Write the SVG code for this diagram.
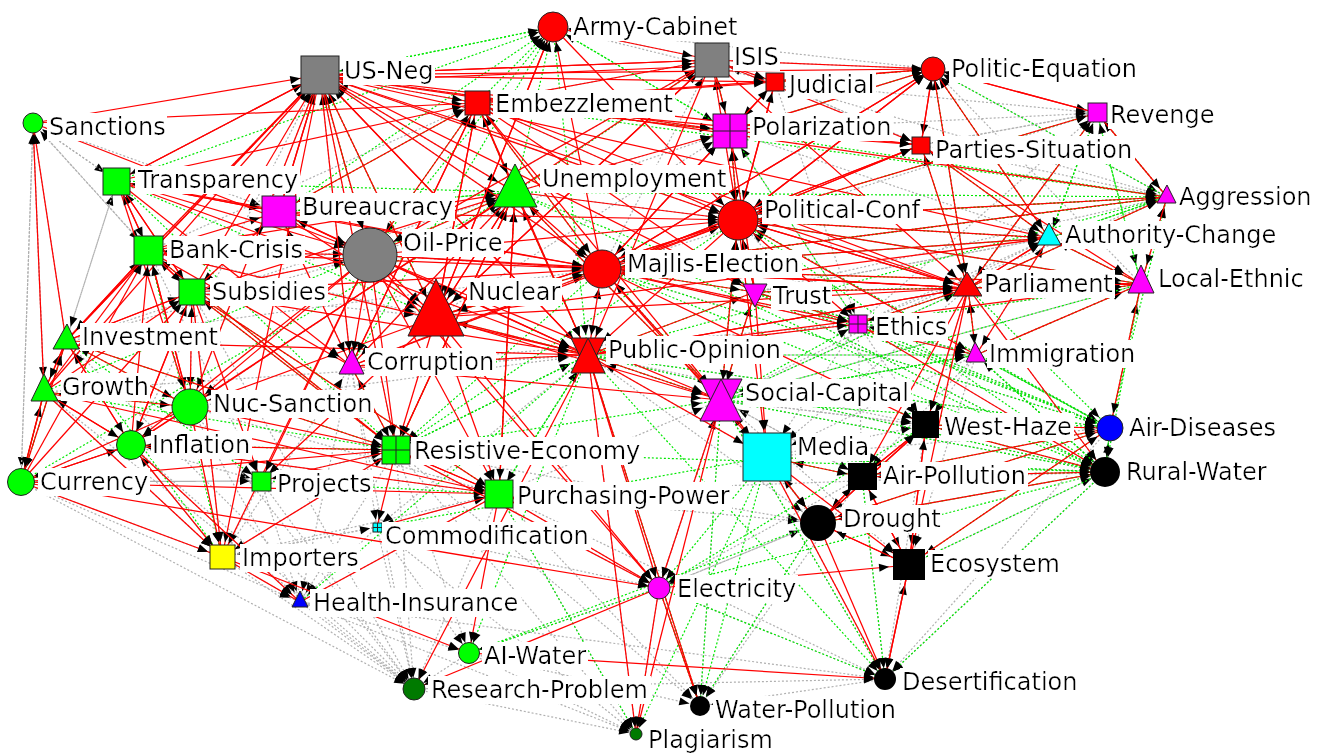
<svg xmlns="http://www.w3.org/2000/svg" width="1322" height="753" viewBox="0 0 1322 753">
<style>
.gy path{fill:none;stroke:#b0b0b0;stroke-width:1.2;stroke-dasharray:2 2}
.gn path{fill:none;stroke:#00e800;stroke-width:1.2;stroke-dasharray:2 2}
.rd path{fill:none;stroke:#ff0000;stroke-width:1.25}
.m6{marker-end:url(#m6)}.m10{marker-end:url(#m10)}.m14{marker-end:url(#m14)}.m18{marker-end:url(#m18)}.m22{marker-end:url(#m22)}.m26{marker-end:url(#m26)}
.nd{stroke:#222;stroke-width:1}
.cx{stroke:#222;stroke-width:1;fill:none}
.lb{font-family:"DejaVu Sans","Liberation Sans",sans-serif;font-size:24px;fill:#000;filter:url(#bg)}
</style>
<defs>
<filter id="bg" x="-0.01" y="0" width="1.02" height="1"><feFlood flood-color="#fff" result="f"/><feComposite in="SourceGraphic" in2="f" operator="over"/></filter>
<marker id="m6" markerUnits="userSpaceOnUse" markerWidth="10" markerHeight="8" refX="17" refY="4" orient="auto" overflow="visible"><path d="M0,0L10,4L0,8z" fill="#000"/></marker>
<marker id="m10" markerUnits="userSpaceOnUse" markerWidth="10" markerHeight="8" refX="21" refY="4" orient="auto" overflow="visible"><path d="M0,0L10,4L0,8z" fill="#000"/></marker>
<marker id="m14" markerUnits="userSpaceOnUse" markerWidth="10" markerHeight="8" refX="25" refY="4" orient="auto" overflow="visible"><path d="M0,0L10,4L0,8z" fill="#000"/></marker>
<marker id="m18" markerUnits="userSpaceOnUse" markerWidth="10" markerHeight="8" refX="30" refY="4" orient="auto" overflow="visible"><path d="M0,0L10,4L0,8z" fill="#000"/></marker>
<marker id="m22" markerUnits="userSpaceOnUse" markerWidth="10" markerHeight="8" refX="32" refY="4" orient="auto" overflow="visible"><path d="M0,0L10,4L0,8z" fill="#000"/></marker>
<marker id="m26" markerUnits="userSpaceOnUse" markerWidth="10" markerHeight="8" refX="37" refY="4" orient="auto" overflow="visible"><path d="M0,0L10,4L0,8z" fill="#000"/></marker>
</defs>
<rect width="1322" height="753" fill="#fff"/>
<g id="edges">
<g class="gy">
<g class="m18">
<path d="M858 324L588 355"/><path d="M976 355L588 355"/><path d="M190 407L588 355"/><path d="M44 392L588 355"/>
<path d="M351 366L588 355"/><path d="M396 450L588 355"/><path d="M499 494L588 355"/><path d="M721 400L588 355"/><path d="M767 457L588 355"/><path d="M436 317L588 355"/><path d="M370 255L588 355"/>
<path d="M755 292L738 220"/><path d="M858 324L738 220"/><path d="M976 355L738 220"/><path d="M351 366L738 220"/>
<path d="M730 131L738 220"/><path d="M968 288L738 220"/><path d="M1049 238L738 220"/><path d="M515 192L738 220"/><path d="M721 400L738 220"/>
<path d="M976 355L602 269"/><path d="M858 324L602 269"/><path d="M351 366L602 269"/><path d="M66 341L602 269"/>
<path d="M588 355L602 269"/><path d="M436 317L602 269"/><path d="M370 255L602 269"/><path d="M721 400L602 269"/>
<path d="M499 494L721 400"/><path d="M818 523L721 400"/><path d="M862 477L721 400"/><path d="M926 425L721 400"/><path d="M659 588L721 400"/>
<path d="M351 366L320 75"/><path d="M190 407L320 75"/><path d="M396 450L320 75"/><path d="M370 255L320 75"/><path d="M131 445L320 75"/><path d="M602 269L320 75"/><path d="M738 220L320 75"/><path d="M730 131L320 75"/>
<path d="M515 192L320 75"/><path d="M477 103L320 75"/><path d="M279 212L320 75"/><path d="M436 317L320 75"/><path d="M117 181L320 75"/><path d="M149 251L320 75"/>
<path d="M775 82L712 60"/><path d="M921 145L712 60"/><path d="M602 269L712 60"/>
<path d="M477 103L712 60"/><path d="M515 192L712 60"/><path d="M370 255L712 60"/><path d="M738 220L712 60"/><path d="M933 69L712 60"/>
<path d="M351 366L515 192"/><path d="M190 407L515 192"/><path d="M66 341L515 192"/>
<path d="M351 366L279 212"/><path d="M33 123L279 212"/>
<path d="M192 292L190 407"/>
<path d="M976 355L909 565"/><path d="M721 400L909 565"/>
<path d="M588 355L818 523"/><path d="M499 494L818 523"/><path d="M396 450L818 523"/><path d="M659 588L818 523"/><path d="M721 400L818 523"/>
<path d="M862 477L818 523"/><path d="M767 457L818 523"/><path d="M926 425L818 523"/>
<path d="M858 324L1141 284"/><path d="M721 400L1141 284"/>
<path d="M968 288L1141 284"/><path d="M1049 238L1141 284"/><path d="M976 355L1141 284"/><path d="M755 292L1141 284"/><path d="M738 220L1141 284"/>
<path d="M755 292L730 131"/><path d="M858 324L730 131"/><path d="M320 75L730 131"/>
<path d="M477 103L730 131"/><path d="M515 192L730 131"/><path d="M602 269L730 131"/><path d="M738 220L730 131"/><path d="M370 255L730 131"/><path d="M436 317L730 131"/>
</g>
<g class="m22"><path d="M149 251L436 317"/><path d="M192 292L436 317"/></g>
<g class="m26"><path d="M149 251L370 255"/><path d="M192 292L370 255"/><path d="M66 341L370 255"/>
<path d="M858 324L767 457"/><path d="M968 288L767 457"/><path d="M976 355L767 457"/></g>
<g class="m14">
<path d="M712 60L553 27"/><path d="M933 69L553 27"/>
<path d="M588 355L477 103"/><path d="M149 251L477 103"/><path d="M738 220L477 103"/>
<path d="M33 123L117 181"/><path d="M66 341L117 181"/>
<path d="M33 123L149 251"/><path d="M279 212L192 292"/><path d="M117 181L66 341"/><path d="M33 123L44 392"/>
<path d="M499 494L131 445"/><path d="M222 557L131 445"/><path d="M33 123L21 482"/>
<path d="M131 445L21 482"/><path d="M190 407L21 482"/><path d="M66 341L21 482"/><path d="M261 481L21 482"/>
<path d="M858 324L351 366"/><path d="M222 557L351 366"/>
<path d="M222 557L396 450"/><path d="M261 481L396 450"/>
<path d="M377 527L499 494"/><path d="M222 557L499 494"/><path d="M190 407L499 494"/>
<path d="M261 481L222 557"/><path d="M377 527L222 557"/>
<path d="M131 445L222 557"/><path d="M21 482L222 557"/><path d="M190 407L222 557"/><path d="M44 392L222 557"/><path d="M192 292L222 557"/>
<path d="M721 400L862 477"/><path d="M976 355L862 477"/><path d="M858 324L862 477"/>
<path d="M721 400L926 425"/><path d="M767 457L926 425"/><path d="M976 355L926 425"/><path d="M858 324L926 425"/>
<path d="M968 288L926 425"/><path d="M588 355L926 425"/><path d="M738 220L926 425"/>
<path d="M767 457L1110 428"/><path d="M755 292L1110 428"/>
<path d="M588 355L1110 428"/><path d="M602 269L1110 428"/><path d="M738 220L1110 428"/><path d="M858 324L1110 428"/><path d="M976 355L1110 428"/><path d="M926 425L1110 428"/>
<path d="M499 494L1105 472"/><path d="M909 565L1105 472"/><path d="M588 355L1105 472"/>
<path d="M755 292L1105 472"/><path d="M858 324L1105 472"/><path d="M721 400L1105 472"/><path d="M767 457L1105 472"/><path d="M976 355L1105 472"/><path d="M968 288L1105 472"/><path d="M926 425L1105 472"/><path d="M862 477L1105 472"/><path d="M818 523L1105 472"/>
<path d="M976 355L755 292"/><path d="M1049 238L755 292"/>
<path d="M755 292L968 288"/><path d="M721 400L968 288"/>
<path d="M976 355L968 288"/><path d="M858 324L968 288"/><path d="M588 355L968 288"/><path d="M602 269L968 288"/>
</g>
<g class="m10">
<path d="M21 482L33 123"/><path d="M117 181L33 123"/><path d="M66 341L33 123"/><path d="M44 392L33 123"/><path d="M149 251L33 123"/>
<path d="M149 251L261 481"/><path d="M21 482L261 481"/><path d="M131 445L261 481"/>
<path d="M396 450L300 602"/><path d="M351 366L300 602"/><path d="M21 482L300 602"/><path d="M190 407L300 602"/>
<path d="M222 557L300 602"/><path d="M131 445L300 602"/><path d="M261 481L300 602"/><path d="M377 527L300 602"/><path d="M499 494L300 602"/>
<path d="M300 602L469 653"/><path d="M396 450L469 653"/><path d="M377 527L469 653"/><path d="M659 588L469 653"/>
<path d="M222 557L414 689"/><path d="M300 602L414 689"/><path d="M469 653L414 689"/><path d="M190 407L414 689"/><path d="M21 482L414 689"/><path d="M377 527L414 689"/><path d="M261 481L414 689"/><path d="M396 450L414 689"/><path d="M131 445L414 689"/>
<path d="M44 392L414 689"/><path d="M66 341L414 689"/><path d="M192 292L414 689"/><path d="M351 366L414 689"/><path d="M499 494L414 689"/>
<path d="M862 477L700 706"/><path d="M396 450L700 706"/><path d="M499 494L700 706"/><path d="M469 653L700 706"/>
<path d="M659 588L700 706"/><path d="M721 400L700 706"/><path d="M588 355L700 706"/><path d="M818 523L700 706"/><path d="M885 679L700 706"/>
<path d="M818 523L659 588"/><path d="M862 477L659 588"/><path d="M377 527L659 588"/>
<path d="M396 450L659 588"/><path d="M499 494L659 588"/><path d="M721 400L659 588"/><path d="M588 355L659 588"/>
<path d="M926 425L885 679"/><path d="M1110 428L885 679"/><path d="M300 602L885 679"/><path d="M414 689L885 679"/><path d="M499 494L885 679"/>
<path d="M659 588L885 679"/><path d="M767 457L885 679"/><path d="M721 400L885 679"/><path d="M862 477L885 679"/><path d="M1105 472L885 679"/><path d="M909 565L885 679"/>
<path d="M858 324L976 355"/><path d="M721 400L976 355"/><path d="M755 292L976 355"/>
<path d="M976 355L858 324"/><path d="M775 82L858 324"/>
<path d="M755 292L1049 238"/><path d="M730 131L1049 238"/>
<path d="M968 288L1049 238"/><path d="M858 324L1049 238"/><path d="M721 400L1049 238"/><path d="M602 269L1049 238"/><path d="M976 355L1049 238"/>
<path d="M933 69L1167 197"/><path d="M921 145L1167 197"/><path d="M775 82L1167 197"/>
<path d="M968 288L1167 197"/><path d="M858 324L1167 197"/><path d="M755 292L1167 197"/><path d="M738 220L1167 197"/><path d="M602 269L1167 197"/><path d="M1141 284L1167 197"/><path d="M1049 238L1167 197"/>
<path d="M921 145L1097 113"/><path d="M730 131L1097 113"/><path d="M775 82L1097 113"/>
<path d="M968 288L1097 113"/><path d="M858 324L1097 113"/><path d="M602 269L1097 113"/><path d="M1049 238L1097 113"/><path d="M1167 197L1097 113"/>
<path d="M775 82L921 145"/><path d="M1097 113L921 145"/>
<path d="M1141 284L933 69"/>
<path d="M730 131L933 69"/><path d="M738 220L933 69"/><path d="M602 269L933 69"/><path d="M1049 238L933 69"/><path d="M968 288L933 69"/>
<path d="M921 145L775 82"/><path d="M553 27L775 82"/>
</g>
<g class="m6">
<path d="M222 557L377 527"/><path d="M351 366L377 527"/><path d="M588 355L377 527"/>
<path d="M414 689L636 734"/><path d="M469 653L636 734"/><path d="M300 602L636 734"/>
<path d="M659 588L636 734"/><path d="M588 355L636 734"/><path d="M499 494L636 734"/><path d="M396 450L636 734"/><path d="M377 527L636 734"/>
</g>
</g>
<g class="gn">
<g class="m18">
<path d="M396 450L588 355"/><path d="M499 494L588 355"/><path d="M721 400L588 355"/><path d="M755 292L588 355"/><path d="M553 27L588 355"/>
<path d="M1097 113L738 220"/><path d="M1167 197L738 220"/><path d="M1049 238L738 220"/><path d="M721 400L738 220"/><path d="M1141 284L738 220"/>
<path d="M730 131L738 220"/><path d="M755 292L738 220"/>
<path d="M1049 238L602 269"/><path d="M755 292L602 269"/><path d="M721 400L602 269"/><path d="M1141 284L602 269"/><path d="M1167 197L602 269"/>
<path d="M767 457L721 400"/><path d="M976 355L721 400"/><path d="M968 288L721 400"/><path d="M1141 284L721 400"/><path d="M396 450L721 400"/>
<path d="M553 27L320 75"/><path d="M436 317L320 75"/><path d="M370 255L320 75"/>
<path d="M730 131L712 60"/><path d="M515 192L712 60"/>
<path d="M279 212L515 192"/><path d="M117 181L515 192"/><path d="M588 355L515 192"/><path d="M21 482L515 192"/><path d="M44 392L515 192"/>
<path d="M396 450L515 192"/><path d="M499 494L515 192"/><path d="M721 400L515 192"/>
<path d="M477 103L279 212"/><path d="M515 192L279 212"/>
<path d="M66 341L190 407"/><path d="M44 392L190 407"/>
<path d="M1105 472L909 565"/><path d="M1110 428L909 565"/>
<path d="M1105 472L818 523"/><path d="M1110 428L818 523"/>
<path d="M1097 113L1141 284"/><path d="M976 355L1141 284"/><path d="M1110 428L1141 284"/>
<path d="M858 324L1141 284"/><path d="M755 292L1141 284"/><path d="M968 288L1141 284"/>
<path d="M553 27L730 131"/><path d="M933 69L730 131"/>
</g>
<g class="m22"><path d="M602 269L436 317"/><path d="M588 355L436 317"/><path d="M117 181L436 317"/></g>
<g class="m26"><path d="M477 103L370 255"/><path d="M818 523L767 457"/><path d="M862 477L767 457"/></g>
<g class="m14">
<path d="M320 75L553 27"/><path d="M477 103L553 27"/><path d="M515 192L553 27"/><path d="M730 131L553 27"/><path d="M279 212L553 27"/><path d="M117 181L553 27"/>
<path d="M370 255L553 27"/><path d="M351 366L553 27"/>
<path d="M515 192L477 103"/><path d="M730 131L477 103"/><path d="M602 269L477 103"/>
<path d="M396 450L149 251"/><path d="M499 494L192 292"/><path d="M396 450L192 292"/>
<path d="M396 450L66 341"/><path d="M222 557L66 341"/><path d="M396 450L44 392"/><path d="M396 450L131 445"/><path d="M66 341L21 482"/><path d="M44 392L21 482"/>
<path d="M396 450L351 366"/>
<path d="M588 355L396 450"/><path d="M602 269L396 450"/><path d="M738 220L396 450"/><path d="M117 181L396 450"/>
<path d="M588 355L499 494"/><path d="M261 481L499 494"/><path d="M149 251L222 557"/>
<path d="M1105 472L862 477"/><path d="M1110 428L862 477"/>
<path d="M1110 428L926 425"/><path d="M1105 472L926 425"/>
<path d="M1105 472L1110 428"/><path d="M968 288L1110 428"/><path d="M976 355L1110 428"/><path d="M858 324L1110 428"/><path d="M721 400L1110 428"/>
<path d="M738 220L1110 428"/><path d="M602 269L1110 428"/><path d="M755 292L1110 428"/><path d="M588 355L1110 428"/><path d="M515 192L1110 428"/>
<path d="M1110 428L1105 472"/><path d="M976 355L1105 472"/><path d="M1141 284L1105 472"/><path d="M721 400L1105 472"/><path d="M755 292L1105 472"/><path d="M767 457L1105 472"/><path d="M396 450L1105 472"/><path d="M659 588L1105 472"/>
<path d="M602 269L1105 472"/><path d="M588 355L1105 472"/><path d="M738 220L1105 472"/><path d="M515 192L1105 472"/>
<path d="M721 400L755 292"/><path d="M858 324L755 292"/>
<path d="M1167 197L968 288"/><path d="M1097 113L968 288"/><path d="M976 355L968 288"/><path d="M858 324L968 288"/>
</g>
<g class="m10">
<path d="M66 341L261 481"/><path d="M588 355L300 602"/><path d="M818 523L469 653"/>
<path d="M588 355L469 653"/><path d="M659 588L469 653"/>
<path d="M767 457L700 706"/><path d="M818 523L700 706"/><path d="M721 400L700 706"/>
<path d="M659 588L700 706"/><path d="M588 355L700 706"/>
<path d="M767 457L659 588"/><path d="M926 425L659 588"/>
<path d="M659 588L885 679"/><path d="M1105 472L885 679"/><path d="M862 477L885 679"/>
<path d="M588 355L885 679"/><path d="M721 400L885 679"/>
<path d="M1110 428L976 355"/><path d="M1105 472L976 355"/>
<path d="M721 400L976 355"/><path d="M588 355L976 355"/><path d="M755 292L976 355"/>
<path d="M721 400L858 324"/><path d="M730 131L858 324"/>
<path d="M1167 197L1049 238"/><path d="M1141 284L1049 238"/><path d="M1097 113L1049 238"/>
<path d="M1049 238L1167 197"/><path d="M1141 284L1167 197"/><path d="M730 131L1167 197"/><path d="M1110 428L1167 197"/>
<path d="M738 220L1167 197"/><path d="M602 269L1167 197"/><path d="M588 355L1167 197"/><path d="M515 192L1167 197"/><path d="M477 103L1167 197"/>
<path d="M1167 197L1097 113"/><path d="M1049 238L1097 113"/><path d="M1141 284L1097 113"/>
<path d="M968 288L921 145"/><path d="M1049 238L921 145"/>
<path d="M1049 238L933 69"/><path d="M1167 197L933 69"/><path d="M968 288L933 69"/>
<path d="M933 69L775 82"/>
</g>
<g class="m6"><path d="M767 457L377 527"/><path d="M767 457L636 734"/><path d="M499 494L636 734"/></g>
</g>
<g class="rd">
<g class="m18">
<path d="M370 255L588 355"/><path d="M436 317L588 355"/><path d="M477 103L588 355"/><path d="M320 75L588 355"/><path d="M279 212L588 355"/><path d="M192 292L588 355"/><path d="M149 251L588 355"/><path d="M117 181L588 355"/><path d="M351 366L588 355"/><path d="M602 269L588 355"/><path d="M738 220L588 355"/><path d="M515 192L588 355"/><path d="M66 341L588 355"/><path d="M968 288L588 355"/><path d="M712 60L588 355"/>
<path d="M320 75L738 220"/><path d="M477 103L738 220"/><path d="M553 27L738 220"/><path d="M712 60L738 220"/><path d="M775 82L738 220"/><path d="M933 69L738 220"/><path d="M921 145L738 220"/><path d="M602 269L738 220"/><path d="M436 317L738 220"/><path d="M370 255L738 220"/><path d="M515 192L738 220"/><path d="M279 212L738 220"/><path d="M968 288L738 220"/>
<path d="M320 75L602 269"/><path d="M477 103L602 269"/><path d="M730 131L602 269"/><path d="M436 317L602 269"/><path d="M370 255L602 269"/><path d="M515 192L602 269"/><path d="M279 212L602 269"/><path d="M968 288L602 269"/><path d="M921 145L602 269"/><path d="M933 69L602 269"/><path d="M117 181L602 269"/><path d="M149 251L602 269"/><path d="M192 292L602 269"/>
<path d="M588 355L721 400"/><path d="M351 366L721 400"/><path d="M477 103L721 400"/><path d="M436 317L721 400"/><path d="M515 192L721 400"/><path d="M602 269L721 400"/><path d="M738 220L721 400"/><path d="M755 292L721 400"/><path d="M370 255L721 400"/>
<path d="M33 123L320 75"/><path d="M117 181L320 75"/><path d="M279 212L320 75"/><path d="M712 60L320 75"/><path d="M66 341L320 75"/><path d="M149 251L320 75"/><path d="M192 292L320 75"/><path d="M44 392L320 75"/><path d="M588 355L320 75"/>
<path d="M320 75L712 60"/><path d="M320 82L712 66"/><path d="M477 103L712 60"/><path d="M436 317L712 60"/><path d="M553 27L712 60"/>
<path d="M370 255L515 192"/><path d="M436 317L515 192"/><path d="M320 75L515 192"/><path d="M477 103L515 192"/><path d="M396 450L515 192"/><path d="M192 292L515 192"/><path d="M149 251L515 192"/><path d="M499 494L515 192"/><path d="M131 445L515 192"/>
<path d="M117 181L279 212"/><path d="M370 255L279 212"/><path d="M320 75L279 212"/><path d="M192 292L279 212"/><path d="M149 251L279 212"/>
<path d="M320 75L190 407"/><path d="M436 317L190 407"/><path d="M370 255L190 407"/><path d="M712 60L190 407"/><path d="M149 251L190 407"/><path d="M117 181L190 407"/>
<path d="M818 523L909 565"/><path d="M862 477L909 565"/><path d="M926 425L909 565"/><path d="M659 588L909 565"/><path d="M885 679L909 565"/><path d="M767 457L909 565"/><path d="M968 288L909 565"/>
<path d="M862 477L818 523"/><path d="M926 425L818 523"/><path d="M767 457L818 523"/><path d="M909 565L818 523"/>
<path d="M968 288L1141 284"/><path d="M1049 238L1141 284"/><path d="M1167 197L1141 284"/><path d="M738 220L1141 284"/><path d="M602 269L1141 284"/><path d="M921 145L1141 284"/><path d="M588 355L1141 284"/>
<path d="M320 75L730 131"/><path d="M712 60L730 131"/><path d="M477 103L730 131"/><path d="M775 82L730 131"/><path d="M602 269L730 131"/><path d="M738 220L730 131"/><path d="M515 192L730 131"/>
</g>
<g class="m22">
<path d="M320 75L436 317"/><path d="M712 60L436 317"/><path d="M370 255L436 317"/><path d="M477 103L436 317"/><path d="M553 27L436 317"/><path d="M738 220L436 317"/><path d="M279 212L436 317"/><path d="M515 192L436 317"/>
</g>
<g class="m26">
<path d="M320 75L370 255"/><path d="M712 60L370 255"/><path d="M33 123L370 255"/><path d="M279 212L370 255"/><path d="M117 181L370 255"/>
<path d="M721 400L767 457"/><path d="M588 355L767 457"/><path d="M738 220L767 457"/><path d="M602 269L767 457"/><path d="M755 292L767 457"/>
</g>
<g class="m14">
<path d="M436 317L553 27"/><path d="M602 269L553 27"/>
<path d="M320 75L477 103"/><path d="M279 212L477 103"/><path d="M117 181L477 103"/><path d="M370 255L477 103"/><path d="M436 317L477 103"/><path d="M351 366L477 103"/><path d="M33 123L477 103"/>
<path d="M149 251L117 181"/><path d="M192 292L117 181"/><path d="M279 212L117 181"/><path d="M320 75L117 181"/>
<path d="M117 181L149 251"/><path d="M192 292L149 251"/><path d="M66 341L149 251"/><path d="M44 392L149 251"/><path d="M21 482L149 251"/><path d="M190 407L149 251"/><path d="M131 445L149 251"/><path d="M370 255L149 251"/>
<path d="M149 251L192 292"/><path d="M117 181L192 292"/><path d="M66 341L192 292"/><path d="M44 392L192 292"/><path d="M131 445L192 292"/><path d="M190 407L192 292"/><path d="M370 255L192 292"/><path d="M21 482L192 292"/>
<path d="M44 392L66 341"/><path d="M21 482L66 341"/><path d="M131 445L66 341"/><path d="M190 407L66 341"/><path d="M149 251L66 341"/><path d="M192 292L66 341"/><path d="M320 75L66 341"/>
<path d="M66 341L44 392"/><path d="M21 482L44 392"/><path d="M131 445L44 392"/><path d="M190 407L44 392"/>
<path d="M44 392L131 445"/><path d="M21 482L131 445"/><path d="M66 341L131 445"/><path d="M190 407L131 445"/><path d="M370 255L131 445"/><path d="M192 292L131 445"/>
<path d="M131 445L21 482"/><path d="M44 392L21 482"/><path d="M190 407L21 482"/>
<path d="M477 103L351 366"/><path d="M279 212L351 366"/><path d="M370 255L351 366"/><path d="M320 75L351 366"/><path d="M117 181L351 366"/><path d="M149 251L351 366"/><path d="M738 220L351 366"/><path d="M602 269L351 366"/><path d="M515 192L351 366"/>
<path d="M370 255L396 450"/><path d="M436 317L396 450"/><path d="M320 75L396 450"/><path d="M192 292L396 450"/><path d="M149 251L396 450"/><path d="M131 445L396 450"/><path d="M21 482L396 450"/><path d="M190 407L396 450"/><path d="M499 494L396 450"/><path d="M66 341L396 450"/><path d="M515 192L396 450"/><path d="M351 366L396 450"/>
<path d="M131 445L499 494"/><path d="M21 482L499 494"/><path d="M370 255L499 494"/><path d="M436 317L499 494"/><path d="M192 292L499 494"/><path d="M515 192L499 494"/><path d="M396 450L499 494"/><path d="M44 392L499 494"/>
<path d="M21 482L222 557"/><path d="M131 445L222 557"/><path d="M44 392L222 557"/><path d="M190 407L222 557"/><path d="M320 75L222 557"/><path d="M370 255L222 557"/><path d="M396 450L222 557"/><path d="M192 292L222 557"/>
<path d="M926 425L862 477"/><path d="M818 523L862 477"/><path d="M767 457L862 477"/><path d="M909 565L862 477"/><path d="M968 288L862 477"/>
<path d="M862 477L926 425"/><path d="M818 523L926 425"/><path d="M909 565L926 425"/><path d="M968 288L926 425"/><path d="M602 269L926 425"/>
<path d="M926 425L1110 428"/><path d="M862 477L1110 428"/><path d="M818 523L1110 428"/><path d="M909 565L1110 428"/><path d="M1141 284L1110 428"/>
<path d="M926 425L1105 472"/><path d="M862 477L1105 472"/><path d="M818 523L1105 472"/><path d="M968 288L1105 472"/><path d="M858 324L1105 472"/>
<path d="M738 220L755 292"/><path d="M602 269L755 292"/><path d="M588 355L755 292"/><path d="M968 288L755 292"/><path d="M730 131L755 292"/><path d="M477 103L755 292"/><path d="M320 75L755 292"/>
<path d="M738 220L968 288"/><path d="M602 269L968 288"/><path d="M588 355L968 288"/><path d="M933 69L968 288"/><path d="M921 145L968 288"/><path d="M1049 238L968 288"/><path d="M1141 284L968 288"/><path d="M320 75L968 288"/><path d="M712 60L968 288"/><path d="M436 317L968 288"/><path d="M370 255L968 288"/><path d="M477 103L968 288"/>
</g>
<g class="m10">
<path d="M44 392L33 123"/><path d="M66 341L33 123"/>
<path d="M370 255L261 481"/><path d="M436 317L261 481"/><path d="M396 450L261 481"/><path d="M192 292L261 481"/>
<path d="M222 557L300 602"/><path d="M499 494L300 602"/><path d="M131 445L300 602"/>
<path d="M222 557L469 653"/><path d="M499 494L469 653"/>
<path d="M659 588L414 689"/><path d="M588 355L414 689"/>
<path d="M659 588L700 706"/><path d="M588 355L700 706"/>
<path d="M588 355L659 588"/><path d="M396 450L659 588"/><path d="M436 317L659 588"/><path d="M370 255L659 588"/><path d="M499 494L659 588"/><path d="M721 400L659 588"/><path d="M21 482L659 588"/>
<path d="M818 523L885 679"/><path d="M909 565L885 679"/><path d="M767 457L885 679"/><path d="M469 653L885 679"/>
<path d="M968 288L976 355"/><path d="M1141 284L976 355"/><path d="M1049 238L976 355"/><path d="M738 220L976 355"/><path d="M602 269L976 355"/>
<path d="M738 220L858 324"/><path d="M602 269L858 324"/><path d="M588 355L858 324"/><path d="M968 288L858 324"/><path d="M755 292L858 324"/>
<path d="M738 220L1049 238"/><path d="M602 269L1049 238"/><path d="M968 288L1049 238"/><path d="M933 69L1049 238"/><path d="M921 145L1049 238"/><path d="M320 75L1049 238"/><path d="M436 317L1049 238"/>
<path d="M738 220L1167 197"/><path d="M602 269L1167 197"/><path d="M320 75L1167 197"/><path d="M968 288L1167 197"/><path d="M1097 113L1167 197"/>
<path d="M933 69L1097 113"/><path d="M738 220L1097 113"/><path d="M968 288L1097 113"/>
<path d="M933 69L921 145"/><path d="M738 220L921 145"/><path d="M602 269L921 145"/><path d="M320 75L921 145"/><path d="M712 60L921 145"/><path d="M477 103L921 145"/><path d="M730 131L921 145"/>
<path d="M738 220L933 69"/><path d="M921 145L933 69"/><path d="M320 75L933 69"/><path d="M712 60L933 69"/><path d="M775 82L933 69"/><path d="M477 103L933 69"/><path d="M602 269L933 69"/><path d="M730 131L933 69"/><path d="M1097 113L933 69"/>
<path d="M320 75L775 82"/><path d="M712 60L775 82"/><path d="M477 103L775 82"/><path d="M738 220L775 82"/><path d="M730 131L775 82"/>
</g>
<g class="m6">
<path d="M396 450L377 527"/><path d="M499 494L377 527"/>
<path d="M588 355L636 734"/><path d="M721 400L636 734"/><path d="M659 588L636 734"/>
</g>
</g>
</g>
<g id="nodes">
<g id="n-army-cabinet"><circle class="nd" cx="553" cy="27" r="15" fill="#ff0000"/><text class="lb" x="573" y="35">Army-Cabinet</text></g>
<g id="n-isis"><rect class="nd" x="695" y="43" width="34" height="34" fill="#808080"/><text class="lb" x="734" y="65">ISIS</text></g>
<g id="n-us-neg"><rect class="nd" x="301" y="56" width="38" height="38" fill="#808080"/><text class="lb" x="344" y="79">US-Neg</text></g>
<g id="n-judicial"><rect class="nd" x="766" y="73" width="18" height="18" fill="#ff0000"/><text class="lb" x="789" y="93">Judicial</text></g>
<g id="n-politic-equation"><circle class="nd" cx="933" cy="69" r="12" fill="#ff0000"/><text class="lb" x="951" y="77">Politic-Equation</text></g>
<g id="n-embezzlement"><rect class="nd" x="465" y="91" width="25" height="24" fill="#ff0000"/><text class="lb" x="495" y="112">Embezzlement</text></g>
<g id="n-revenge"><rect class="nd" x="1088" y="103" width="19" height="19" fill="#ff00ff"/><text class="lb" x="1110" y="123">Revenge</text></g>
<g id="n-sanctions"><circle class="nd" cx="33" cy="123" r="10" fill="#00ff00"/><text class="lb" x="49" y="135">Sanctions</text></g>
<g id="n-polarization"><rect class="nd" x="713" y="114" width="34" height="34" fill="#ff00ff"/><path class="cx" d="M730 114V148M713 131H747"/><text class="lb" x="752" y="135">Polarization</text></g>
<g id="n-parties-situation"><rect class="nd" x="912" y="137" width="18" height="17" fill="#ff0000"/><text class="lb" x="935" y="158">Parties-Situation</text></g>
<g id="n-transparency"><rect class="nd" x="103" y="168" width="27" height="27" fill="#00ff00"/><text class="lb" x="138" y="188">Transparency</text></g>
<g id="n-unemployment"><polygon class="nd" points="515,164 537,207 493,207" fill="#00ff00"/><text class="lb" x="542" y="187">Unemployment</text></g>
<g id="n-bureaucracy"><rect class="nd" x="262" y="196" width="34" height="31" fill="#ff00ff"/><text class="lb" x="302" y="215">Bureaucracy</text></g>
<g id="n-political-conf"><circle class="nd" cx="738" cy="220" r="20" fill="#ff0000"/><text class="lb" x="764" y="218">Political-Conf</text></g>
<g id="n-aggression"><polygon class="nd" points="1167,185 1176,203 1157,203" fill="#ff00ff"/><text class="lb" x="1179" y="205">Aggression</text></g>
<g id="n-authority-change"><polygon class="nd" points="1049,223 1061,245 1037,245" fill="#00ffff"/><text class="lb" x="1065" y="243">Authority-Change</text></g>
<g id="n-oil-price"><circle class="nd" cx="370" cy="255" r="27" fill="#808080"/><text class="lb" x="403" y="251">Oil-Price</text></g>
<g id="n-bank-crisis"><rect class="nd" x="134" y="236" width="29" height="29" fill="#00ff00"/><text class="lb" x="169" y="258">Bank-Crisis</text></g>
<g id="n-majlis-election"><circle class="nd" cx="602" cy="269" r="19" fill="#ff0000"/><text class="lb" x="627" y="272">Majlis-Election</text></g>
<g id="n-subsidies"><rect class="nd" x="179" y="279" width="26" height="26" fill="#00ff00"/><text class="lb" x="212" y="300">Subsidies</text></g>
<g id="n-nuclear"><polygon class="nd" points="436,279 464,336 408,336" fill="#ff0000"/><text class="lb" x="468" y="300">Nuclear</text></g>
<g id="n-trust"><polygon class="nd" points="743,284 767,284 755,307" fill="#ff00ff"/><text class="lb" x="773" y="304">Trust</text></g>
<g id="n-parliament"><polygon class="nd" points="967,272 982,296 953,296" fill="#ff0000"/><text class="lb" x="984" y="292">Parliament</text></g>
<g id="n-local-ethnic"><polygon class="nd" points="1141,265 1154,293 1128,293" fill="#ff00ff"/><text class="lb" x="1158" y="287">Local-Ethnic</text></g>
<g id="n-investment"><polygon class="nd" points="67,324 79,349 53,349" fill="#00ff00"/><text class="lb" x="82" y="345">Investment</text></g>
<g id="n-ethics"><rect class="nd" x="849" y="315" width="18" height="18" fill="#ff00ff"/><path class="cx" d="M858 315V333M849 324H867"/><text class="lb" x="875" y="335">Ethics</text></g>
<g id="n-corruption"><polygon class="nd" points="352,349 364,374 339,374" fill="#ff00ff"/><text class="lb" x="367" y="370">Corruption</text></g>
<g id="n-public-opinion"><polygon class="nd" points="571,338 605,338 588,373" fill="#ff0000"/><polygon class="nd" points="571,373 605,373 588,338" fill="#ff0000"/><text class="lb" x="608" y="358">Public-Opinion</text></g>
<g id="n-immigration"><polygon class="nd" points="975,342 986,362 966,362" fill="#ff00ff"/><text class="lb" x="989" y="362">Immigration</text></g>
<g id="n-growth"><polygon class="nd" points="44,374 58,401 31,401" fill="#00ff00"/><text class="lb" x="62" y="395">Growth</text></g>
<g id="n-nuc-sanction"><circle class="nd" cx="190" cy="407" r="18" fill="#00ff00"/><text class="lb" x="213" y="412">Nuc-Sanction</text></g>
<g id="n-social-capital"><polygon class="nd" points="700,379 742,379 721,421" fill="#ff00ff"/><polygon class="nd" points="700,421 742,421 721,379" fill="#ff00ff"/><text class="lb" x="745" y="401">Social-Capital</text></g>
<g id="n-west-haze"><rect x="912" y="411" width="27" height="27" fill="#000"/><text class="lb" x="944" y="435">West-Haze</text></g>
<g id="n-air-diseases"><circle class="nd" cx="1110" cy="428" r="13" fill="#0000ff"/><text class="lb" x="1129" y="436">Air-Diseases</text></g>
<g id="n-inflation"><circle class="nd" cx="131" cy="445" r="14.5" fill="#00ff00"/><text class="lb" x="152" y="453">Inflation</text></g>
<g id="n-resistive-economy"><rect class="nd" x="382" y="436" width="28" height="28" fill="#00ff00"/><path class="cx" d="M396 436V464M382 450H410"/><text class="lb" x="414" y="459">Resistive-Economy</text></g>
<g id="n-media"><rect class="nd" x="743" y="433" width="48" height="48" fill="#00ffff"/><text class="lb" x="797" y="455">Media</text></g>
<g id="n-rural-water"><circle cx="1105" cy="472" r="15" fill="#000"/><text class="lb" x="1126" y="480">Rural-Water</text></g>
<g id="n-currency"><circle class="nd" cx="21" cy="482" r="13.5" fill="#00ff00"/><text class="lb" x="40" y="490">Currency</text></g>
<g id="n-projects"><rect class="nd" x="252" y="472" width="19" height="19" fill="#00ff00"/><text class="lb" x="277" y="492">Projects</text></g>
<g id="n-air-pollution"><rect x="848" y="463" width="29" height="27" fill="#000"/><text class="lb" x="883" y="484">Air-Pollution</text></g>
<g id="n-purchasing-power"><rect class="nd" x="485" y="480" width="28" height="28" fill="#00ff00"/><text class="lb" x="517" y="504">Purchasing-Power</text></g>
<g id="n-drought"><circle cx="818" cy="523" r="18" fill="#000"/><text class="lb" x="843" y="527">Drought</text></g>
<g id="n-commodification"><rect class="nd" x="373" y="523" width="9" height="9" fill="#00ffff"/><path class="cx" d="M377.5 523V532M373 527.5H382"/><text class="lb" x="385" y="544">Commodification</text></g>
<g id="n-importers"><rect class="nd" x="210" y="545" width="25" height="24" fill="#ffff00"/><text class="lb" x="242" y="566">Importers</text></g>
<g id="n-ecosystem"><rect x="893" y="549" width="32" height="31" fill="#000"/><text class="lb" x="930" y="572">Ecosystem</text></g>
<g id="n-electricity"><circle class="nd" cx="659" cy="588" r="11" fill="#ff00ff"/><text class="lb" x="677" y="597">Electricity</text></g>
<g id="n-health-insurance"><polygon class="nd" points="300,591 308,607 292,607" fill="#0000ff"/><text class="lb" x="313" y="611">Health-Insurance</text></g>
<g id="n-ai-water"><circle class="nd" cx="469" cy="653" r="10.5" fill="#00ff00"/><text class="lb" x="484" y="664">AI-Water</text></g>
<g id="n-research-problem"><circle class="nd" cx="414" cy="689" r="11" fill="#007a00"/><text class="lb" x="431" y="698">Research-Problem</text></g>
<g id="n-desertification"><circle cx="885" cy="679" r="11" fill="#000"/><text class="lb" x="902" y="690">Desertification</text></g>
<g id="n-water-pollution"><circle cx="700" cy="706" r="10" fill="#000"/><text class="lb" x="715" y="718">Water-Pollution</text></g>
<g id="n-plagiarism"><circle class="nd" cx="636" cy="734" r="6" fill="#007a00"/><text class="lb" x="648" y="748">Plagiarism</text></g>
</g>
</svg>
